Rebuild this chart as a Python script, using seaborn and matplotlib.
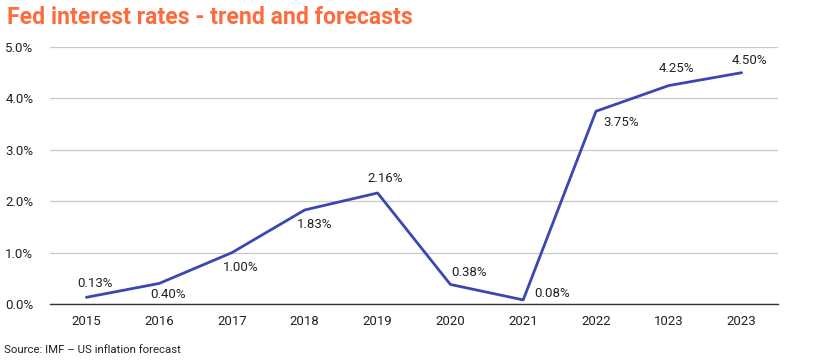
import pandas as pd
import matplotlib.pyplot as plt
import seaborn as sns
from matplotlib.ticker import FuncFormatter

# Data
years = ["2015", "2016", "2017", "2018", "2019", "2020", "2021", "2022", "1023", "2023"]
rates = [0.13, 0.40, 1.00, 1.83, 2.16, 0.38, 0.08, 3.75, 4.25, 4.50]
labels = ["0.13%", "0.40%", "1.00%", "1.83%", "2.16%", "0.38%", "0.08%", "3.75%", "4.25%", "4.50%"]

df = pd.DataFrame({"year": years, "rate": rates})

sns.set_style("white")
plt.rcParams["font.family"] = ["Roboto", "DejaVu Sans"]

fig = plt.figure(figsize=(8.3, 3.61), dpi=100)
ax = fig.add_axes([50 / 830, 1 - 304 / 361, 728 / 830, 257 / 361])

sns.lineplot(data=df, x="year", y="rate", sort=False, color="#3b47b0", linewidth=2.0, ax=ax)

# label offsets in pixels (placement)
offsets = [(9, 14), (9, -11), (9, -15), (10, -15), (8, 14),
           (19, 12), (29, 6), (25, -11), (8, 17), (8, 12)]
for i, (val, lab) in enumerate(zip(rates, labels)):
    ax.annotate(lab, (i, val), xytext=offsets[i], textcoords="offset pixels",
                ha="center", va="center", fontsize=9.5, color="#222222")

ax.set_xlim(-0.5, len(years) - 0.5)
ax.set_ylim(0, 5)
ax.set_yticks([0, 1, 2, 3, 4, 5])
ax.yaxis.set_major_formatter(FuncFormatter(lambda v, p: f"{v:.1f}%"))
ax.grid(axis="y", color="#c8c8c8", linewidth=0.9)
ax.set_axisbelow(True)
ax.set_xlabel("")
ax.set_ylabel("")
for s in ["top", "right", "left"]:
    ax.spines[s].set_visible(False)
ax.spines["bottom"].set_color("#333333")
ax.spines["bottom"].set_linewidth(1.0)
ax.tick_params(axis="both", length=0, labelsize=9.5, colors="#222222")
ax.tick_params(axis="y", pad=12)
ax.tick_params(axis="x", pad=8)

fig.text(7 / 830, 1 - 17 / 361, "Fed interest rates - trend and forecasts",
         fontsize=16.6, fontweight="bold", color="#ff6b3d", va="center", ha="left")
fig.text(4 / 830, 1 - 350 / 361, "Source: IMF \u2013 US inflation forecast",
         fontsize=8.2, color="#222222", va="center", ha="left")

fig.savefig("out.png", dpi=100)
